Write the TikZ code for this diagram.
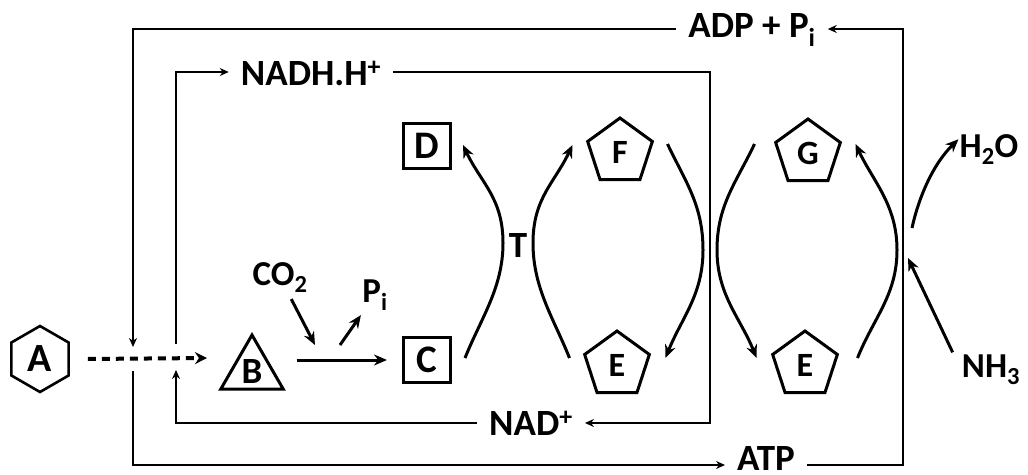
\documentclass[tikz,border=0pt]{standalone}
\usepackage{fontspec}
\setmainfont{Carlito}
\usetikzlibrary{arrows.meta,positioning,shapes.geometric,calc}

\begin{document}
\begin{tikzpicture}[x=1pt,y=-1pt,>=Stealth,every node/.style={align=center},
  lbl/.style={font=\fontsize{37}{40}\selectfont\bfseries,anchor=base,inner xsep=12pt,inner ysep=0pt},
  chem/.style={font=\fontsize{35}{38}\selectfont\bfseries,anchor=base,inner sep=1pt},
  loopline/.style={line width=2pt},
  loopto/.style={loopline,-{Stealth[length=9pt,width=8pt]}},
  flow/.style={line width=3pt,-{Stealth[length=13pt,width=11pt]}},
  dashflow/.style={line width=4pt,dash pattern=on 8pt off 6pt,-{Stealth[length=12pt,width=12pt]}},
  hexa/.style={draw,line width=2.6pt,regular polygon,regular polygon sides=6,shape border rotate=30,minimum size=66pt,inner sep=0pt,font=\fontsize{40}{42}\selectfont\bfseries},
  tri/.style={draw,line width=3pt,regular polygon,regular polygon sides=3,minimum size=72pt,inner sep=0pt,font=\fontsize{37}{40}\selectfont\bfseries},
  sq/.style={draw,line width=3pt,minimum width=47pt,minimum height=45pt,inner sep=0pt,font=\fontsize{39}{42}\selectfont\bfseries},
  penta/.style={draw,line width=3pt,regular polygon,regular polygon sides=5,minimum size=68pt,inner sep=0pt,font=\fontsize{34}{36}\selectfont\bfseries}]
  \useasboundingbox (0,0) rectangle (1028,474);
  % molecules
  \node[hexa] (A) at (40,359) {A};
  \node[tri] (B) at (252,371) {B};
  \node[sq] (C) at (427,360) {C};
  \node[sq] (D) at (427,146) {D};
  \node[penta] (F) at (620,152) {F};
  \node[penta] (E1) at (617,365) {E};
  \node[penta] (G) at (808,153) {G};
  \node[penta] (E2) at (805,365) {E};
  % labels
  \node[lbl] (adp) at (752,37) {ADP + P\textsubscript{i}};
  \node[lbl] (nadh) at (311,85) {NADH.H\textsuperscript{+}};
  \node[lbl] (nad) at (531,435) {NAD\textsuperscript{+}};
  \node[lbl] (atp) at (766,470) {ATP};
  \node[lbl,inner xsep=0pt] (T) at (518,257) {T};
  \node[chem] (co2) at (280,285) {CO\textsubscript{2}};
  \node[chem] (pi) at (375,302) {P\textsubscript{i}};
  \node[chem] (h2o) at (989,157) {H\textsubscript{2}O};
  \node[chem] (nh3) at (991,377) {NH\textsubscript{3}};
  % corners of the two loops
  \coordinate (oTL) at (133,29);
  \coordinate (oTR) at (903,29);
  \coordinate (oBR) at (903,465);
  \coordinate (oBL) at (133,465);
  \coordinate (oIn) at (133,347);
  \coordinate (oOut) at (133,371);
  \coordinate (iTL) at (176,72);
  \coordinate (iTR) at (710,72);
  \coordinate (iBR) at (710,423);
  \coordinate (iBL) at (176,423);
  \coordinate (iIn) at (176,370);
  \coordinate (iOut) at (176,344);
  \coordinate (bIn) at (207,358);
  \coordinate (jCO) at (315,345);
  \coordinate (jPi) at (340,345);
  \coordinate (nIn) at (908,258);
  \coordinate (hOut) at (912,228);
  % ATP / ADP loop
  \draw[loopto] (atp.east |- oBR) -- (oBR) -- (oTR) -- (adp.east |- oTR);
  \draw[loopto] (adp.west |- oTL) -- (oTL) -- (oIn);
  \draw[loopto] (oOut) -- (oBL) -- (atp.west |- oBL);
  % NADH / NAD loop
  \draw[loopto] (iOut) -- (iTL) -- (nadh.west |- iTL);
  \draw[loopto] (nadh.east |- iTR) -- (iTR) -- (iBR) -- (nad.east |- iBR);
  \draw[loopto] (nad.west |- iBL) -- (iBL) -- (iIn);
  % main path
  \draw[dashflow] ([xshift=18pt]A.east) -- (bIn);
  \draw[flow,shorten <=22pt,shorten >=15pt] (B.east |- C.west) -- (C.west);
  \draw[flow,shorten <=6pt] (co2) -- (jCO);
  \draw[flow,shorten >=4pt] (jPi) -- (pi);
  \draw[flow] ([xshift=13pt,yshift=2pt]C.east) .. controls +(16,-40) and +(0,45) .. (503,243) .. controls +(0,-45) and +(18,38) .. ([xshift=11pt,yshift=1pt]D.east);
  \draw[flow] ([xshift=-17pt,yshift=7pt]E1.west) .. controls +(-16,-40) and +(0,45) .. (533,243) .. controls +(0,-45) and +(-18,38) .. ([xshift=-17pt,yshift=7pt]F.west);
  \draw[flow] ([xshift=17pt,yshift=8pt]F.east) .. controls +(18,38) and +(0,-45) .. (703,250) .. controls +(0,45) and +(16,-40) .. ([xshift=18pt,yshift=7pt]E1.east);
  \draw[flow] ([xshift=-23pt,yshift=9pt]G.west) .. controls +(-18,38) and +(0,-45) .. (717,250) .. controls +(0,45) and +(-16,-40) .. ([xshift=-18pt,yshift=7pt]E2.west);
  \draw[flow] ([xshift=22pt,yshift=7pt]E2.east) .. controls +(16,-40) and +(0,45) .. (897,250) .. controls +(0,-45) and +(18,38) .. ([xshift=17pt,yshift=9pt]G.east);
  \draw[flow] (hOut) .. controls (918,200) and (932,165) .. ([yshift=10pt]h2o.west);
  \draw[flow,shorten <=19pt] (nh3.west) -- (nIn);
\end{tikzpicture}
\end{document}
